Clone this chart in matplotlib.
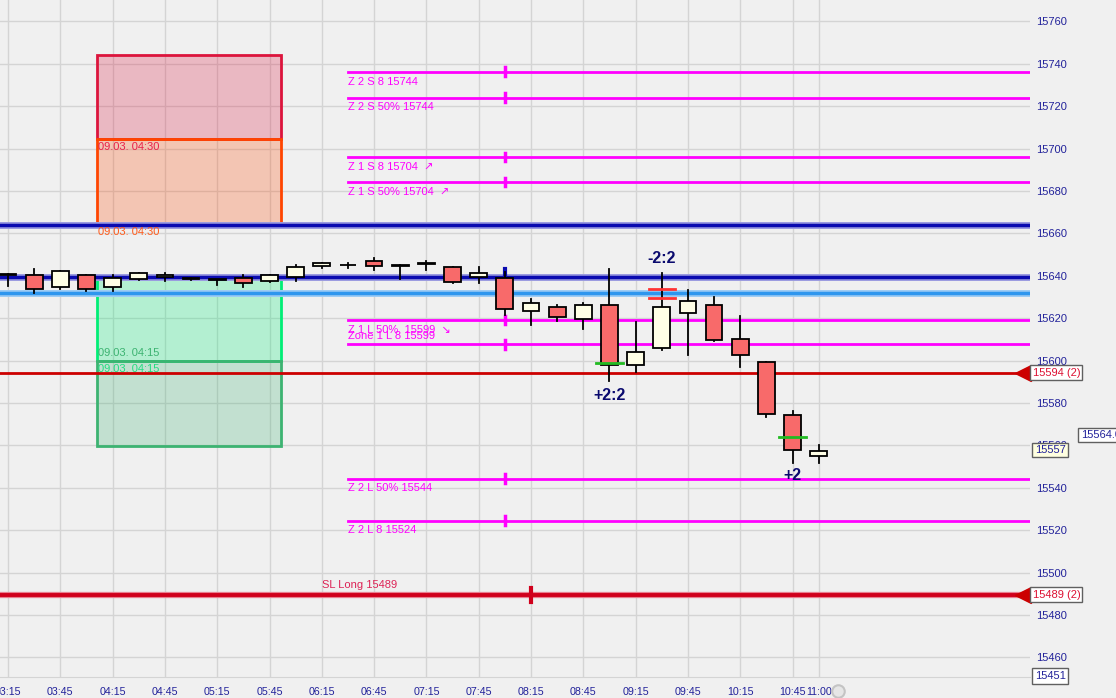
import matplotlib.pyplot as plt
from matplotlib.patches import Rectangle

plt.rcParams['font.family'] = ['Liberation Sans', 'DejaVu Sans']

# 15 min candles, 03:15 .. 11:00
horas = ['03:15', '03:30', '03:45', '04:00', '04:15', '04:30', '04:45', '05:00',
         '05:15', '05:30', '05:45', '06:00', '06:15', '06:30', '06:45', '07:00',
         '07:15', '07:30', '07:45', '08:00', '08:15', '08:30', '08:45', '09:00',
         '09:15', '09:30', '09:45', '10:00', '10:15', '10:30', '10:45', '11:00']
abertura = [15640.4, 15640.3, 15634.6, 15640.3, 15634.6, 15638.4, 15639.3, 15638.8,
            15638.1, 15638.9, 15637.5, 15639.5, 15644.5, 15645.0, 15646.9, 15645.0,
            15645.6, 15644.1, 15639.3, 15638.9, 15623.6, 15625.2, 15619.5, 15626.1,
            15597.8, 15605.8, 15622.4, 15626.1, 15610.1, 15599.2, 15574.2, 15554.9]
maxima = [15640.9, 15643.1, 15642.2, 15640.3, 15640.3, 15641.2, 15641.2, 15638.9,
          15638.1, 15640.4, 15640.3, 15645.1, 15645.9, 15645.9, 15648.4, 15645.0,
          15647.2, 15644.1, 15644.1, 15641.8, 15628.9, 15626.1, 15627.1, 15643.1,
          15618.3, 15641.5, 15633.3, 15629.9, 15621.1, 15599.2, 15576.1, 15560.1]
minima = [15635.2, 15632.1, 15634.0, 15633.0, 15633.0, 15637.9, 15637.7, 15637.9,
          15635.8, 15634.9, 15637.0, 15637.7, 15643.7, 15643.7, 15642.9, 15638.5,
          15642.9, 15636.8, 15636.8, 15621.7, 15617.0, 15618.9, 15615.1, 15590.3,
          15594.7, 15605.2, 15602.8, 15609.2, 15597.2, 15573.3, 15551.9, 15551.9]
fechamento = [15640.4, 15633.7, 15642.2, 15633.7, 15638.9, 15641.2, 15640.4, 15638.6,
              15638.1, 15636.5, 15640.3, 15644.1, 15645.9, 15645.0, 15644.5, 15644.6,
              15645.6, 15637.3, 15641.2, 15624.5, 15627.1, 15620.5, 15626.1, 15597.8,
              15604.0, 15625.2, 15628.0, 15609.8, 15602.5, 15574.9, 15557.7, 15557.4]

# zone lines (magenta) and their labels
zonas_preco = [15736.3, 15724.1, 15696.1, 15684.3, 15619.2, 15607.7, 15544.4, 15524.6]
zonas_texto = ['Z 2 S 8 15744', 'Z 2 S 50% 15744', 'Z 1 S 8 15704  \u2197', 'Z 1 S 50% 15704  \u2197',
               'Z 1 L 50%  15599  \u2198', 'Zone 1 L 8 15599', 'Z 2 L 50% 15544', 'Z 2 L 8 15524']

# boxes: (preco_baixo, preco_alto, cor)
caixas_x = [3.40, 10.44]
caixas = [(15704.6, 15744.2, '#DC143C'), (15664.5, 15704.6, '#FF4500'),
          (15599.7, 15638.9, '#00EE76'), (15559.8, 15599.7, '#3CB371')]
caixas_texto = [('09.03. 04:30', 15700.8, '#E8204A'), ('09.03. 04:30', 15660.7, '#FF5A1A'),
                ('09.03. 04:15', 15603.6, '#3CB371'), ('09.03. 04:15', 15596.1, '#22DD80')]

linha_azul1 = 15664.2
linha_azul2 = 15639.3
linha_azul_clara = 15631.7
linha_vermelha = 15594.4
stop_loss = 15489.5

PX = 26.15  # pixels per bar
fig = plt.figure(figsize=(11.16, 6.98), dpi=100, facecolor='#F0F0F0')
ax = fig.add_axes([0, 21 / 698, 1030 / 1116, 677 / 698])
ax.set_facecolor('#F0F0F0')
ax.set_xlim(-8 / PX, (1030 - 8) / PX)
ax.set_ylim(15450.8, 15770.1)
ax.set_axisbelow(True)

xs = list(range(len(horas)))
ticks_x = list(range(0, 31, 2)) + [31]
ax.set_xticks(ticks_x, [horas[i] for i in ticks_x])
ax.set_yticks(range(15460, 15761, 20))
ax.yaxis.tick_right()
ax.tick_params(axis='x', length=0, pad=7, labelsize=7.7, labelcolor='#22229A')
ax.tick_params(axis='y', length=0, pad=4.5, labelsize=8, labelcolor='#22229A')
ax.grid(True, color='#D4D4D4', lw=1)
for s in ['top', 'left', 'right']:
    ax.spines[s].set_visible(False)
ax.spines['bottom'].set_color('#D4D4D4')

# boxes
for baixo, alto, cor in caixas:
    ax.add_patch(Rectangle((caixas_x[0], baixo), caixas_x[1] - caixas_x[0], alto - baixo,
                           facecolor=cor, alpha=0.25, edgecolor='none', zorder=1))
    ax.add_patch(Rectangle((caixas_x[0], baixo), caixas_x[1] - caixas_x[0], alto - baixo,
                           facecolor='none', edgecolor=cor, lw=2, zorder=1.2))
for txt, y, cor in caixas_texto:
    ax.text(caixas_x[0] + 0.04, y, txt, color=cor, fontsize=8, va='center', zorder=6)

# horizontal lines
ax.axhline(linha_azul1, color='#9A9AE0', lw=5, zorder=2)
ax.axhline(linha_azul1, color='#0A0AB0', lw=2.5, zorder=2)
ax.axhline(linha_azul2, color='#9A9AE0', lw=5, zorder=2)
ax.axhline(linha_azul2, color='#0A0AB0', lw=2.5, zorder=2)
ax.plot([19, 19], [linha_azul2, linha_azul2 + 3.7], color='#0A0AB0', lw=3, zorder=2)
ax.axhline(linha_azul_clara, color='#9CCBF5', lw=5, zorder=2)
ax.axhline(linha_azul_clara, color='#2E96EE', lw=2.5, zorder=2)
ax.axhline(linha_vermelha, color='#CC0000', lw=2, zorder=2)
ax.axhline(stop_loss, color='#E88090', lw=4.5, zorder=2)
ax.axhline(stop_loss, color='#D0001C', lw=2.8, zorder=2)
ax.plot([20, 20], [stop_loss - 3.3, stop_loss + 3.3], color='#D0001C', lw=3, zorder=2)
ax.text(12.0, stop_loss + 2.3, 'SL Long 15489', color='#DD2255', fontsize=8, va='bottom', zorder=6)

# right arrow heads
for p in [linha_vermelha, stop_loss]:
    ax.plot([(1023 - 8) / PX], [p], marker='<', ms=12, color='#CC0000', clip_on=False, zorder=7)

# zone lines
for p, txt in zip(zonas_preco, zonas_texto):
    ax.plot([13.0, 40], [p, p], color='#FF00FF', lw=2, zorder=2)
    ax.plot([19, 19], [p - 2, p + 2], color='#FF00FF', lw=2.5, zorder=2)
    if txt.startswith('Zone'):
        ax.text(13.0, p + 1.6, txt, color='#FF00FF', fontsize=8, va='bottom', zorder=6)
    else:
        ax.text(13.0, p - 2.3, txt, color='#FF00FF', fontsize=8, va='top', zorder=6)

# candles
for i in xs:
    o, h, l, c = abertura[i], maxima[i], minima[i], fechamento[i]
    ax.plot([i, i], [l, h], color='black', lw=1.3, zorder=4)
    cor = '#FFFFE6' if c >= o else '#F86A6A'
    ax.add_patch(Rectangle((i - 0.32, min(o, c)), 0.64, max(abs(c - o), 0.25),
                           facecolor=cor, edgecolor='black', lw=1.3, zorder=5))

# fills / orders
ax.plot([22.5, 23.5], [15599.1, 15599.1], color='#22BB22', lw=2, zorder=6)
ax.plot([29.5, 30.5], [15564.2, 15564.2], color='#22BB22', lw=2, zorder=6)
ax.plot([24.5, 25.5], [15634.0, 15634.0], color='#FF3333', lw=2, zorder=6)
ax.plot([24.5, 25.5], [15629.6, 15629.6], color='#FF3333', lw=2, zorder=6)
ax.text(25.0, 15648.0, '-2:2', color='#0A0A6E', fontsize=11.5, fontweight='bold', ha='center', va='center', zorder=7)
ax.text(23.0, 15583.8, '+2:2', color='#0A0A6E', fontsize=11.5, fontweight='bold', ha='center', va='center', zorder=7)
ax.text(30.0, 15545.6, '+2', color='#0A0A6E', fontsize=11.5, fontweight='bold', ha='center', va='center', zorder=7)

# clock icon
ax.plot([(838 - 8) / PX], [15444.2], marker='o', ms=9, mfc='#E6E6E6', mec='#C4C4C4', mew=1.5, clip_on=False)


def etiqueta(x0, y0, x1, y1, txt, cor_txt, cor_fundo='white'):
    # box in pixel coords (top-left origin)
    fig.add_artist(Rectangle((x0 / 1116, 1 - y1 / 698), (x1 - x0) / 1116, (y1 - y0) / 698,
                             transform=fig.transFigure, facecolor=cor_fundo,
                             edgecolor='#606060', lw=1, zorder=10))
    fig.text((x0 + 3) / 1116, 1 - (y0 + y1) / 2 / 698, txt, color=cor_txt, fontsize=8,
             va='center', ha='left', zorder=11)


etiqueta(1030, 365, 1082, 380, '15594 (2)', '#DD1133')
etiqueta(1030, 587, 1082, 602, '15489 (2)', '#DD1133')
etiqueta(1032, 443, 1068, 457, '15557', '#22229A', '#FFFFE0')
etiqueta(1078, 428, 1130, 442, '15564.00', '#22229A')
etiqueta(1032, 668, 1068, 684, '15451', '#22229A')

fig.savefig('out.png', dpi=100, facecolor=fig.get_facecolor())
